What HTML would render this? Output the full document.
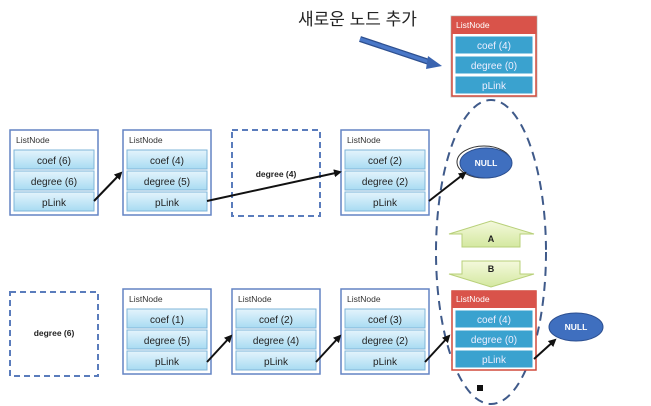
<!DOCTYPE html>
<html><head><meta charset="utf-8"><style>
html,body{margin:0;padding:0;background:#fff;}
svg{display:block;}
text{font-family:"Liberation Sans","Noto Sans CJK KR",sans-serif;}
</style></head><body>
<svg width="651" height="406" viewBox="0 0 651 406" xmlns="http://www.w3.org/2000/svg">
<defs>
<linearGradient id="cell" x1="0" y1="0" x2="0" y2="1">
<stop offset="0" stop-color="#e4f4fc"/><stop offset="1" stop-color="#a8dbf2"/>
</linearGradient>
<linearGradient id="grn" x1="0" y1="0" x2="0" y2="1">
<stop offset="0" stop-color="#f4f9dc"/><stop offset="1" stop-color="#d4e8a0"/>
</linearGradient>
<marker id="ah" markerWidth="8" markerHeight="8" refX="6" refY="4" orient="auto" markerUnits="userSpaceOnUse">
<path d="M0,0 L8,4 L0,8 z" fill="#111"/>
</marker>
</defs>

<!-- Title -->
<text x="298" y="25" font-size="17" fill="#222">새로운 노드 추가</text>
<line x1="360" y1="39" x2="432" y2="63" stroke="#2d4f8f" stroke-width="6"/>
<line x1="360" y1="39" x2="432" y2="63" stroke="#4a78c8" stroke-width="3.5"/>
<path d="M428,56 L442,66 L426,69 z" fill="#3a64b0"/>

<!-- big dashed ellipse -->
<ellipse cx="491" cy="252" rx="55" ry="152" fill="none" stroke="#3f5a8a" stroke-width="2" stroke-dasharray="9,6"/>

<g id="nodes" font-size="10">
<!-- blue node template drawn manually -->
<!-- top row -->
<g transform="translate(10,130)">
<rect x="0" y="0" width="88" height="85" fill="#fff" stroke="#6384c4" stroke-width="1.5"/>
<text x="6" y="13" font-size="8.5" fill="#333">ListNode</text>
<rect x="4" y="20" width="80" height="19" fill="url(#cell)" stroke="#7fb5d8"/>
<rect x="4" y="41" width="80" height="19" fill="url(#cell)" stroke="#7fb5d8"/>
<rect x="4" y="62" width="80" height="19" fill="url(#cell)" stroke="#7fb5d8"/>
<text x="44" y="34" text-anchor="middle" fill="#222">coef (6)</text>
<text x="44" y="55" text-anchor="middle" fill="#222">degree (6)</text>
<text x="44" y="76" text-anchor="middle" fill="#222">pLink</text>
</g>
<g transform="translate(123,130)">
<rect x="0" y="0" width="88" height="85" fill="#fff" stroke="#6384c4" stroke-width="1.5"/>
<text x="6" y="13" font-size="8.5" fill="#333">ListNode</text>
<rect x="4" y="20" width="80" height="19" fill="url(#cell)" stroke="#7fb5d8"/>
<rect x="4" y="41" width="80" height="19" fill="url(#cell)" stroke="#7fb5d8"/>
<rect x="4" y="62" width="80" height="19" fill="url(#cell)" stroke="#7fb5d8"/>
<text x="44" y="34" text-anchor="middle" fill="#222">coef (4)</text>
<text x="44" y="55" text-anchor="middle" fill="#222">degree (5)</text>
<text x="44" y="76" text-anchor="middle" fill="#222">pLink</text>
</g>
<rect x="232" y="130" width="88" height="86" fill="#fff" stroke="#5a7cbc" stroke-width="2" stroke-dasharray="6,4"/>
<text x="276" y="177" text-anchor="middle" font-size="8.5" font-weight="bold" fill="#222">degree (4)</text>
<g transform="translate(341,130)">
<rect x="0" y="0" width="88" height="85" fill="#fff" stroke="#6384c4" stroke-width="1.5"/>
<text x="6" y="13" font-size="8.5" fill="#333">ListNode</text>
<rect x="4" y="20" width="80" height="19" fill="url(#cell)" stroke="#7fb5d8"/>
<rect x="4" y="41" width="80" height="19" fill="url(#cell)" stroke="#7fb5d8"/>
<rect x="4" y="62" width="80" height="19" fill="url(#cell)" stroke="#7fb5d8"/>
<text x="44" y="34" text-anchor="middle" fill="#222">coef (2)</text>
<text x="44" y="55" text-anchor="middle" fill="#222">degree (2)</text>
<text x="44" y="76" text-anchor="middle" fill="#222">pLink</text>
</g>

<!-- bottom row -->
<rect x="10" y="292" width="88" height="84" fill="#fff" stroke="#5a7cbc" stroke-width="2" stroke-dasharray="6,4"/>
<text x="54" y="336" text-anchor="middle" font-size="8.5" font-weight="bold" fill="#222">degree (6)</text>
<g transform="translate(123,289)">
<rect x="0" y="0" width="88" height="85" fill="#fff" stroke="#6384c4" stroke-width="1.5"/>
<text x="6" y="13" font-size="8.5" fill="#333">ListNode</text>
<rect x="4" y="20" width="80" height="19" fill="url(#cell)" stroke="#7fb5d8"/>
<rect x="4" y="41" width="80" height="19" fill="url(#cell)" stroke="#7fb5d8"/>
<rect x="4" y="62" width="80" height="19" fill="url(#cell)" stroke="#7fb5d8"/>
<text x="44" y="34" text-anchor="middle" fill="#222">coef (1)</text>
<text x="44" y="55" text-anchor="middle" fill="#222">degree (5)</text>
<text x="44" y="76" text-anchor="middle" fill="#222">pLink</text>
</g>
<g transform="translate(232,289)">
<rect x="0" y="0" width="88" height="85" fill="#fff" stroke="#6384c4" stroke-width="1.5"/>
<text x="6" y="13" font-size="8.5" fill="#333">ListNode</text>
<rect x="4" y="20" width="80" height="19" fill="url(#cell)" stroke="#7fb5d8"/>
<rect x="4" y="41" width="80" height="19" fill="url(#cell)" stroke="#7fb5d8"/>
<rect x="4" y="62" width="80" height="19" fill="url(#cell)" stroke="#7fb5d8"/>
<text x="44" y="34" text-anchor="middle" fill="#222">coef (2)</text>
<text x="44" y="55" text-anchor="middle" fill="#222">degree (4)</text>
<text x="44" y="76" text-anchor="middle" fill="#222">pLink</text>
</g>
<g transform="translate(341,289)">
<rect x="0" y="0" width="88" height="85" fill="#fff" stroke="#6384c4" stroke-width="1.5"/>
<text x="6" y="13" font-size="8.5" fill="#333">ListNode</text>
<rect x="4" y="20" width="80" height="19" fill="url(#cell)" stroke="#7fb5d8"/>
<rect x="4" y="41" width="80" height="19" fill="url(#cell)" stroke="#7fb5d8"/>
<rect x="4" y="62" width="80" height="19" fill="url(#cell)" stroke="#7fb5d8"/>
<text x="44" y="34" text-anchor="middle" fill="#222">coef (3)</text>
<text x="44" y="55" text-anchor="middle" fill="#222">degree (2)</text>
<text x="44" y="76" text-anchor="middle" fill="#222">pLink</text>
</g>

<!-- red nodes -->
<g transform="translate(451,16)">
<rect x="0" y="0" width="86" height="81" fill="#fbe9e7" stroke="#c9c9c9" stroke-width="1"/>
<rect x="1" y="1" width="84" height="79" fill="#fff" stroke="#d04a3c" stroke-width="1.5"/>
<rect x="1" y="1" width="84" height="17" fill="#d9534a"/>
<text x="5" y="12" font-size="8.5" fill="#fff">ListNode</text>
<rect x="4" y="20" width="78" height="18" fill="#3aa2cf" stroke="#fff"/>
<rect x="4" y="40" width="78" height="18" fill="#3aa2cf" stroke="#fff"/>
<rect x="4" y="60" width="78" height="18" fill="#3aa2cf" stroke="#fff"/>
<text x="43" y="33" text-anchor="middle" fill="#eef">coef (4)</text>
<text x="43" y="53" text-anchor="middle" fill="#eef">degree (0)</text>
<text x="43" y="73" text-anchor="middle" fill="#eef">pLink</text>
</g>
<g transform="translate(451,290)">
<rect x="1" y="1" width="84" height="79" fill="#fff" stroke="#d04a3c" stroke-width="1.5"/>
<rect x="1" y="1" width="84" height="17" fill="#d9534a"/>
<text x="5" y="12" font-size="8.5" fill="#fff">ListNode</text>
<rect x="4" y="20" width="78" height="18" fill="#3aa2cf" stroke="#fff"/>
<rect x="4" y="40" width="78" height="18" fill="#3aa2cf" stroke="#fff"/>
<rect x="4" y="60" width="78" height="18" fill="#3aa2cf" stroke="#fff"/>
<text x="43" y="33" text-anchor="middle" fill="#eef">coef (4)</text>
<text x="43" y="53" text-anchor="middle" fill="#eef">degree (0)</text>
<text x="43" y="73" text-anchor="middle" fill="#eef">pLink</text>
</g>
</g>

<!-- A / B arrows -->
<path d="M449,234 L491,221 L534,234 L520,234 L520,247 L462,247 L462,234 z" fill="url(#grn)" stroke="#b8d07a"/>
<text x="491" y="242" text-anchor="middle" font-size="9" font-weight="bold" fill="#222">A</text>
<path d="M462,261 L520,261 L520,274 L534,274 L491,287 L449,274 L462,274 z" fill="url(#grn)" stroke="#b8d07a"/>
<text x="491" y="272" text-anchor="middle" font-size="9" font-weight="bold" fill="#222">B</text>

<!-- NULL ellipses -->
<ellipse cx="484" cy="162" rx="27" ry="16" fill="#fff" stroke="#333" stroke-width="1"/>
<ellipse cx="486" cy="163" rx="26" ry="15" fill="#3f6fbf" stroke="#2c4f90"/>
<text x="486" y="166" text-anchor="middle" font-size="8.5" font-weight="bold" fill="#fff">NULL</text>
<ellipse cx="576" cy="327" rx="27" ry="14" fill="#3f6fbf" stroke="#2c4f90"/>
<text x="576" y="330" text-anchor="middle" font-size="8.5" font-weight="bold" fill="#fff">NULL</text>

<!-- connectors -->
<g stroke="#111" stroke-width="2" fill="none" marker-end="url(#ah)">
<line x1="94" y1="201" x2="121" y2="173"/>
<line x1="207" y1="201" x2="340" y2="172"/>
<line x1="429" y1="201" x2="465" y2="173"/>
<line x1="207" y1="362" x2="231" y2="336"/>
<line x1="316" y1="362" x2="340" y2="336"/>
<line x1="425" y1="362" x2="449" y2="336"/>
<line x1="534" y1="359" x2="555" y2="340"/>
</g>
<rect x="477" y="385" width="6" height="6" fill="#111"/>
</svg>
</body></html>
